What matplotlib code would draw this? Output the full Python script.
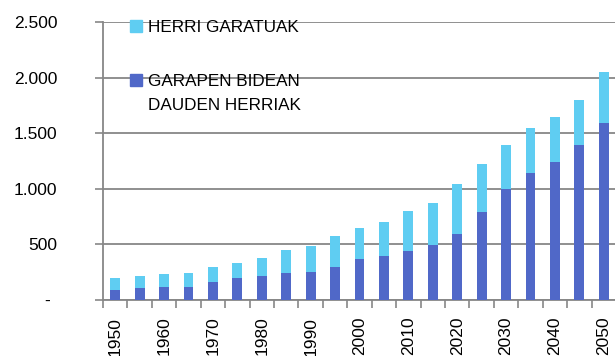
import matplotlib.pyplot as plt
from matplotlib.ticker import FixedLocator, FuncFormatter
import matplotlib.transforms as mtransforms

plt.rcParams['font.family'] = ['Liberation Sans', 'DejaVu Sans']

# Urteak eta bi serieak (milioika)
years = list(range(1950, 2051, 5))
garapen_bidean = [90, 105, 115, 120, 160, 195, 220, 245, 255, 300, 372,
                  393, 444, 495, 594, 794, 995, 1145, 1244, 1397, 1595]
herri_garatuak = [105, 110, 122, 126, 137, 138, 155, 202, 234, 276, 273,
                  306, 354, 375, 449, 426, 399, 402, 402, 402, 452]
labels_serie = ['HERRI GARATUAK', 'GARAPEN BIDEAN\nDAUDEN HERRIAK']

DARK = '#5068C8'
LIGHT = '#5FCDF2'
GRID = '#878787'

fig = plt.figure(figsize=(6.15, 3.56), dpi=100)
ax = fig.add_axes([103 / 615, 1 - 300 / 356, 513 / 615, 278 / 356])

x = list(range(len(years)))
ax.bar(x, garapen_bidean, width=0.4, color=DARK, zorder=3)
ax.bar(x, herri_garatuak, width=0.4, bottom=garapen_bidean, color=LIGHT, zorder=3)

ax.set_xlim(-0.5, len(years) - 0.5)
ax.set_ylim(0, 2500)

# Y ardatza: 500eko tarteak, puntua milakoen bereizle
ax.set_yticks([0, 500, 1000, 1500, 2000, 2500])
ax.yaxis.set_major_formatter(FuncFormatter(
    lambda v, p: '-' if v == 0 else f'{int(v):,}'.replace(',', '.')))
ax.grid(axis='y', color=GRID, linewidth=1.3, zorder=0)
ax.tick_params(axis='y', length=6, width=1.2, color=GRID, pad=27,
               labelsize=12.5, labelcolor='black')
zero_lbl = ax.get_yticklabels()[0]
zero_lbl.set_transform(zero_lbl.get_transform() +
                       mtransforms.ScaledTranslation(-7 / 100, 0, fig.dpi_scale_trans))

# X ardatza: marrak kategorien artean, etiketak 10 urtetik behin
ax.xaxis.set_major_locator(FixedLocator(x[::2]))
ax.set_xticklabels([str(y) for y in years[::2]], rotation=90, fontsize=12.5)
ax.xaxis.set_minor_locator(FixedLocator([i - 0.5 for i in range(len(years) + 1)]))
ax.tick_params(axis='x', which='major', length=0, pad=12)
ax.tick_params(axis='x', which='minor', length=6, width=1.2, color=GRID)

for side in ['top', 'right']:
    ax.spines[side].set_visible(False)
for side in ['left', 'bottom']:
    ax.spines[side].set_color(GRID)
    ax.spines[side].set_linewidth(1.3)

# Legenda eskuz, kutxarik gabe
ax.plot([0.0653], [0.985], marker='s', ms=9, color=LIGHT, transform=ax.transAxes,
        clip_on=False, zorder=4, linestyle='none')
ax.text(0.0877, 0.963, labels_serie[0], transform=ax.transAxes,
        fontsize=12.3, va='baseline', ha='left', zorder=5)
ax.plot([0.0653], [0.793], marker='s', ms=9, color=DARK, transform=ax.transAxes,
        clip_on=False, zorder=4, linestyle='none')
for i, line in enumerate(labels_serie[1].split('\n')):
    ax.text(0.0877, 0.770 - i * 0.087, line, transform=ax.transAxes,
            fontsize=12.3, va='baseline', ha='left', zorder=5)

fig.savefig('out.png', dpi=100)
